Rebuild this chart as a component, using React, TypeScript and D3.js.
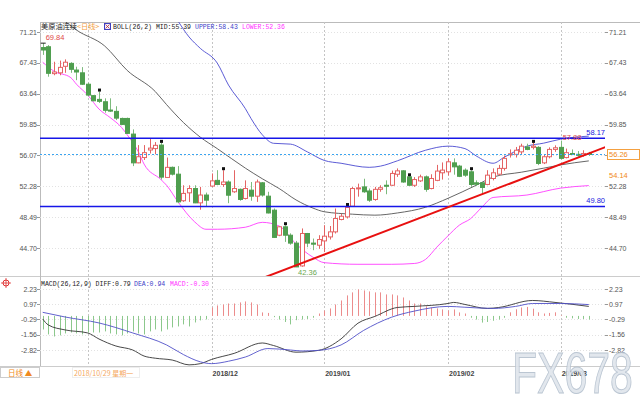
import React, { useEffect, useRef } from "react";
import * as d3 from "d3";

// daily candles, index 0 = 2018/10/22
const opens = [69.3, 69.4, 66.1, 66.2, 67.0, 67.36, 66.54, 66.2, 64.8, 63.4, 62.94, 62.65, 61.63, 61.47, 60.6, 60.6, 58.68, 55.15, 55.8, 56.73, 56.9, 57.33, 53.36, 54.6, 53.76, 50.5, 51.47, 52.0, 50.24, 51.2, 52.3, 53.0, 52.5, 52.8, 51.6, 51.9, 50.78, 51.8, 51.06, 52.7, 51.06, 49.34, 46.27, 47.3, 46.27, 45.3, 42.5, 46.48, 45.3, 45.04, 45.57, 46.06, 46.68, 48.2, 48.52, 49.83, 51.96, 52.2, 51.7, 50.66, 51.9, 52.4, 52.4, 53.75, 54.17, 53.43, 52.4, 52.94, 53.43, 52.0, 53.0, 53.93, 54.05, 55.15, 54.75, 54.25, 54.05, 52.7, 52.7, 52.5, 53.23, 53.76, 54.47, 56.2, 56.2, 56.5, 57.1, 57.05, 57.05, 55.15, 55.9, 56.8, 57.05, 55.8, 56.3, 56.2, 56.1, 56.3];
const highs = [69.84, 69.6, 67.56, 67.7, 67.85, 67.5, 66.95, 66.9, 65.0, 63.45, 63.9, 63.07, 63.07, 62.1, 60.7, 60.7, 59.26, 57.33, 57.33, 58.15, 57.7, 57.6, 55.8, 54.7, 54.75, 52.4, 52.4, 52.4, 52.2, 51.5, 53.85, 54.25, 54.25, 53.0, 54.25, 52.0, 53.0, 52.8, 53.1, 52.8, 51.6, 49.55, 47.4, 47.5, 46.5, 45.57, 47.1, 46.55, 45.86, 46.27, 47.5, 47.4, 49.55, 48.9, 49.85, 52.2, 52.6, 53.2, 52.0, 52.2, 52.4, 53.0, 54.2, 54.47, 54.25, 53.5, 53.4, 53.7, 53.6, 53.75, 54.9, 55.2, 55.7, 55.7, 54.9, 54.47, 54.25, 53.0, 52.8, 54.25, 54.47, 54.9, 56.06, 56.8, 57.1, 57.5, 57.5, 57.6, 57.2, 56.2, 57.05, 57.3, 57.88, 56.9, 56.8, 56.6, 56.7, 56.5];
const lows = [68.4, 65.72, 65.9, 65.9, 66.2, 66.2, 65.3, 64.7, 63.3, 62.7, 62.5, 61.3, 61.4, 60.4, 59.8, 58.7, 54.75, 55.1, 55.5, 56.3, 56.2, 53.1, 53.3, 53.6, 50.2, 50.36, 50.36, 50.2, 49.4, 49.75, 52.2, 52.4, 52.2, 50.2, 51.47, 50.5, 50.66, 50.5, 50.36, 51.0, 48.94, 45.95, 46.15, 45.45, 45.1, 42.36, 42.4, 44.8, 44.43, 44.6, 44.2, 45.74, 46.48, 48.1, 48.32, 49.75, 51.0, 51.47, 50.36, 50.5, 51.6, 51.3, 52.3, 53.43, 52.7, 52.3, 52.2, 52.8, 51.6, 51.9, 52.9, 53.1, 53.6, 53.7, 53.4, 53.43, 52.2, 52.3, 51.3, 52.4, 53.0, 53.6, 54.2, 55.8, 55.8, 56.2, 56.7, 56.8, 54.87, 55.0, 55.7, 56.5, 55.57, 55.7, 56.1, 55.9, 55.9, 56.0];
const closes = [69.0, 66.14, 66.3, 66.87, 67.5, 66.63, 66.3, 64.8, 63.47, 62.77, 62.7, 61.6, 61.5, 60.64, 59.87, 58.77, 55.15, 55.9, 56.4, 56.96, 57.3, 53.4, 54.6, 53.76, 50.36, 51.4, 52.0, 50.24, 51.2, 50.57, 52.94, 52.5, 52.8, 51.18, 52.0, 50.66, 52.0, 51.06, 52.8, 51.2, 49.0, 46.0, 47.3, 46.27, 45.3, 42.38, 46.48, 45.3, 45.17, 45.74, 46.15, 46.68, 48.32, 48.6, 49.67, 52.0, 52.08, 51.6, 50.57, 51.9, 52.1, 52.3, 53.85, 54.17, 52.8, 52.4, 53.1, 53.43, 51.9, 53.23, 54.14, 54.26, 55.28, 54.66, 53.5, 53.64, 52.5, 52.53, 52.13, 53.64, 53.93, 54.47, 55.7, 56.26, 56.7, 57.2, 56.8, 57.2, 55.08, 55.9, 56.8, 57.0, 55.7, 56.4, 56.2, 56.1, 56.3, 56.26];
const markerIdx = [10, 21, 32, 43, 54, 65, 76, 87];

const upperIdx = [24, 26, 28, 31, 33, 36, 37, 39, 41, 44, 47, 50, 53, 58, 60, 63, 68, 72, 75, 77, 80, 82, 86, 89, 92, 97];
const upperVal = [72.6, 70.6, 69.2, 67.4, 64.7, 61.8, 60.6, 58.6, 57.55, 57.45, 56.5, 55.45, 55.1, 54.6, 54.75, 55.4, 56.7, 57.2, 56.9, 56.0, 55.1, 55.85, 57.2, 57.57, 58.06, 58.43];
const midIdx = [4, 6, 11, 15, 20, 22, 25, 28, 31, 36, 39, 42, 45, 48, 50, 55, 59, 63, 68, 72, 77, 80, 85, 89, 92, 97];
const midVal = [72.5, 71.45, 69.5, 66.5, 63.9, 62.3, 60.1, 58.3, 56.9, 54.5, 53.2, 52.0, 50.6, 49.6, 49.15, 48.85, 48.73, 49.0, 49.7, 50.8, 52.4, 53.4, 54.0, 54.5, 54.9, 55.39];
const lowerIdx = [0, 2, 5, 6, 8, 10, 12, 14, 15, 17, 18, 21, 22, 24, 27, 29, 31, 36, 39, 42, 45, 48, 50, 56, 62, 66, 68, 70, 72, 74, 76, 78, 80, 86, 92, 97];
const lowerVal = [67.5, 66.4, 65.6, 64.8, 63.47, 61.75, 60.7, 59.5, 58.6, 56.5, 55.0, 53.1, 52.4, 50.4, 47.9, 47.0, 47.0, 47.25, 47.85, 47.4, 45.2, 43.57, 42.9, 42.7, 42.7, 42.8, 43.3, 44.8, 46.2, 47.5, 48.3, 49.7, 50.9, 51.2, 52.05, 52.36];

// MACD(26,12,9)
const diffIdx = [0, 1, 4, 8, 10, 13, 16, 18, 20, 23, 26, 28, 30, 34, 39, 41, 45, 49, 53, 56, 59, 63, 66, 72, 73, 75, 79, 81, 87, 91, 97];
const diffVal = [-0.25, -0.75, -1.16, -1.41, -1.91, -2.49, -2.82, -3.32, -3.5, -3.65, -4.05, -3.95, -3.6, -3.1, -2.24, -2.45, -3.0, -2.85, -1.9, -0.6, -0.04, 0.7, 0.79, 1.03, 1.12, 0.95, 0.62, 0.7, 1.28, 1.12, 0.79];
const deaIdx = [0, 4, 10, 16, 22, 25, 28, 30, 33, 36, 40, 44, 46, 49, 53, 57, 62, 66, 72, 75, 80, 84, 87, 92, 97];
const deaVal = [0.3, -0.09, -0.58, -1.41, -2.4, -3.2, -3.8, -3.95, -3.75, -3.4, -2.7, -2.82, -2.9, -2.85, -2.4, -1.2, -0.1, 0.4, 0.79, 0.72, 0.62, 0.79, 1.03, 1.03, 0.94];
const macdHist = [-1.12, -1.53, -1.7, -1.61, -1.45, -1.37, -1.45, -1.53, -1.37, -1.37, -1.37, -1.28, -1.45, -1.53, -1.61, -1.45, -1.28, -1.45, -1.53, -1.28, -1.12, -1.28, -1.12, -0.95, -0.87, -0.7, -0.87, -0.54, -0.37, -0.29, 0.7, 0.87, 0.95, 1.03, 1.03, 1.12, 1.2, 1.12, 0.95, 0.29, 0.25, -0.1, -0.3, -0.5, -0.7, -0.35, -0.3, -0.25, -0.15, 0.2, 0.45, 0.62, 0.95, 1.28, 1.7, 1.95, 2.2, 2.11, 2.03, 1.95, 1.95, 1.78, 1.78, 1.7, 1.53, 1.28, 1.03, 1.03, 0.79, 0.7, 0.62, 0.54, 0.45, 0.54, 0.29, 0.2, -0.15, -0.3, -0.55, -0.5, -0.4, -0.3, -0.15, 0.3, 0.55, 0.7, 0.75, 0.6, 0.3, 0.2, 0.25, 0.3, 0.05, -0.15, -0.2, -0.25, -0.25, -0.3];

const priceTicks = [71.21, 67.43, 63.64, 59.85, 56.07, 52.28, 48.49, 44.70];
const macdTicks = [2.23, 0.97, -0.29, -1.56, -2.82];
const monthIdx = [8, 30, 50, 72, 92];
// first month label sits under the date box, so it is left blank
const monthLabels = ["", "2018/12", "2019/01", "2019/02", "2019/03"];

const resistance = 58.17;
const support = 49.8;
const lastPrice = 56.26;
const trendIdx = [39, 100];
const trendVal = [40.99, 57.1];

const RED = "#e46464";
const GREEN = "#4f9e4f";

function App() {
  const svgRef = useRef<SVGSVGElement>(null);

  useEffect(() => {
    const svg = d3.select(svgRef.current);
    svg.selectAll("*").remove();

    const left = 40, right = 605;
    const mainTop = 22, mainBottom = 276, macdBottom = 366;
    const n = closes.length;

    const x = d3.scaleLinear().domain([0, n - 1]).range([42.7, 588.8]);
    const y = d3.scaleLinear().domain([44.7, 71.21]).range([248, 32]);
    const ym = d3.scaleLinear().domain([-2.82, 2.23]).range([350, 289]);

    const sans = "'Liberation Sans', Arial, sans-serif";
    const mono = "'Liberation Mono', 'Noto Sans CJK SC', monospace";

    const defs = svg.append("defs");
    defs.append("clipPath").attr("id", "mainClip")
      .append("rect").attr("x", left).attr("y", mainTop).attr("width", right - left).attr("height", mainBottom - mainTop);

    // frame
    svg.append("rect").attr("width", 640).attr("height", 400).attr("fill", "#fff");
    svg.append("line").attr("x1", left).attr("x2", 640).attr("y1", mainTop + 0.5).attr("y2", mainTop + 0.5).attr("stroke", "#bbb");
    svg.append("line").attr("x1", 0).attr("x2", 640).attr("y1", mainBottom + 0.5).attr("y2", mainBottom + 0.5).attr("stroke", "#ccc");
    svg.append("line").attr("x1", 0).attr("x2", 640).attr("y1", macdBottom + 0.5).attr("y2", macdBottom + 0.5).attr("stroke", "#ccc");
    svg.append("line").attr("x1", left + 0.5).attr("x2", left + 0.5).attr("y1", mainTop).attr("y2", macdBottom).attr("stroke", "#bbb");

    // grid
    const grid = svg.append("g").attr("stroke", "#e2e2e2").attr("stroke-dasharray", "1,2");
    grid.selectAll(".hg").data(priceTicks).enter().append("line")
      .attr("x1", left).attr("x2", right).attr("y1", d => Math.round(y(d)) + 0.5).attr("y2", d => Math.round(y(d)) + 0.5);
    grid.selectAll(".mg").data(macdTicks).enter().append("line")
      .attr("x1", left).attr("x2", right).attr("y1", d => Math.round(ym(d)) + 0.5).attr("y2", d => Math.round(ym(d)) + 0.5);
    svg.append("g").attr("stroke", "#c4c4c4").attr("stroke-dasharray", "2,2")
      .selectAll("line").data(monthIdx).enter().append("line")
      .attr("x1", d => Math.round(x(d)) + 0.5).attr("x2", d => Math.round(x(d)) + 0.5)
      .attr("y1", mainTop).attr("y2", macdBottom);

    // axes labels
    const axisText = (g: any, ticks: number[], sc: any, xx: number, anchor: string) => {
      g.selectAll("text").data(ticks).enter().append("text")
        .attr("x", xx).attr("y", (d: number) => sc(d) + 2.5)
        .attr("text-anchor", anchor).attr("font-family", sans).attr("font-size", 7).attr("fill", "#555")
        .text((d: number) => d.toFixed(2));
      g.selectAll("line").data(ticks).enter().append("line")
        .attr("x1", anchor === "end" ? left - 3 : right).attr("x2", anchor === "end" ? left : right + 3)
        .attr("y1", (d: number) => Math.round(sc(d)) + 0.5).attr("y2", (d: number) => Math.round(sc(d)) + 0.5)
        .attr("stroke", "#999");
    };
    axisText(svg.append("g"), priceTicks, y, 37, "end");
    axisText(svg.append("g"), priceTicks, y, 609, "start");
    axisText(svg.append("g"), macdTicks, ym, 37, "end");
    axisText(svg.append("g"), macdTicks, ym, 609, "start");

    const main = svg.append("g").attr("clip-path", "url(#mainClip)");

    // bollinger
    const band = (idx: number[], val: number[], color: string) => {
      const pts = idx.map((d, i) => [d, val[i]] as [number, number]);
      main.append("path").datum(pts)
        .attr("d", d3.line<[number, number]>().x(d => x(d[0])).y(d => y(d[1])).curve(d3.curveMonotoneX))
        .attr("fill", "none").attr("stroke", color).attr("stroke-width", 0.9);
    };
    band(midIdx, midVal, "#555");
    band(upperIdx, upperVal, "#4a4ad0");
    band(lowerIdx, lowerVal, "#ff3cff");

    // candles
    const idx = d3.range(n);
    const c = main.append("g");
    c.selectAll(".wick").data(idx).enter().append("line")
      .attr("x1", i => Math.round(x(i)) + 0.5).attr("x2", i => Math.round(x(i)) + 0.5)
      .attr("y1", i => y(highs[i])).attr("y2", i => y(lows[i]))
      .attr("stroke", i => (closes[i] >= opens[i] ? RED : "#7dbb7d"));
    c.selectAll(".body").data(idx).enter().append("rect")
      .attr("x", i => Math.round(x(i)) - 1.5)
      .attr("y", i => y(Math.max(opens[i], closes[i])))
      .attr("width", 4)
      .attr("height", i => Math.max(1, Math.abs(y(opens[i]) - y(closes[i]))))
      .attr("fill", i => (closes[i] >= opens[i] ? "#fff" : GREEN))
      .attr("stroke", i => (closes[i] >= opens[i] ? RED : GREEN))
      .attr("stroke-width", 1);
    c.selectAll(".mk").data(markerIdx).enter().append("rect")
      .attr("x", i => Math.round(x(i)) - 1).attr("y", i => y(highs[i]) - 3)
      .attr("width", 3).attr("height", 3).attr("fill", "#111");
    main.append("line").attr("x1", x(0) - 2).attr("x2", x(0) + 3).attr("y1", y(highs[0])).attr("y2", y(highs[0])).attr("stroke", "#222");

    // levels
    [resistance, support].forEach(v => {
      main.append("line").attr("x1", left).attr("x2", right).attr("y1", y(v)).attr("y2", y(v))
        .attr("stroke", "#1616e8").attr("stroke-width", 1.6);
    });
    main.append("line").attr("x1", left).attr("x2", right).attr("y1", Math.round(y(lastPrice)) + 0.5).attr("y2", Math.round(y(lastPrice)) + 0.5)
      .attr("stroke", "#3aa4f0").attr("stroke-dasharray", "2,2");
    main.append("line")
      .attr("x1", x(trendIdx[0])).attr("y1", y(trendVal[0]))
      .attr("x2", x(trendIdx[1])).attr("y2", y(trendVal[1]))
      .attr("stroke", "#e81010").attr("stroke-width", 2);

    // price annotations
    const hiI = d3.maxIndex(highs), loI = d3.minIndex(lows);
    svg.append("text").attr("x", x(hiI) + 3).attr("y", y(highs[hiI]) - 3)
      .attr("font-family", sans).attr("font-size", 7.5).attr("fill", "#e04848").text(highs[hiI].toFixed(2));
    svg.append("text").attr("x", x(loI) + 2).attr("y", y(lows[loI]) + 8)
      .attr("font-family", sans).attr("font-size", 7.5).attr("fill", "#6aa84f").text(lows[loI].toFixed(2));
    const recentHi = d3.maxIndex(highs.slice(80)) + 80;
    svg.append("text").attr("x", x(recentHi) + 2).attr("y", y(highs[recentHi]) - 1)
      .attr("font-family", sans).attr("font-size", 7.5).attr("fill", "#e04848").text(highs[recentHi].toFixed(2));
    [resistance, support].forEach(v => {
      svg.append("text").attr("x", right).attr("y", y(v) - 3).attr("text-anchor", "end")
        .attr("font-family", sans).attr("font-size", 7.5).attr("fill", "#2020e0").text(v.toFixed(2));
    });
    svg.append("rect").attr("x", 607.5).attr("y", Math.round(y(lastPrice)) - 4.5).attr("width", 32).attr("height", 10)
      .attr("fill", "#fff").attr("stroke", "#f4a040");
    svg.append("text").attr("x", 609).attr("y", y(lastPrice) + 3.5)
      .attr("font-family", sans).attr("font-size", 7.5).attr("fill", "#f08a20").text(lastPrice.toFixed(2));
    svg.append("text").attr("x", 609).attr("y", y(closes[70]) + 6.5)
      .attr("font-family", sans).attr("font-size", 7.5).attr("fill", "#f08a20").text(closes[70].toFixed(2));

    // MACD
    const zero = ym(0);
    svg.append("g").selectAll("line").data(idx).enter().append("line")
      .attr("x1", i => Math.round(x(i)) + 0.5).attr("x2", i => Math.round(x(i)) + 0.5)
      .attr("y1", zero).attr("y2", i => ym(macdHist[i]))
      .attr("stroke", i => (macdHist[i] >= 0 ? "#ec8c8c" : "#8cc88c"));
    const macdLine = (ii: number[], vv: number[], color: string) => {
      const pts = ii.map((d, k) => [d, vv[k]] as [number, number]);
      svg.append("path").datum(pts)
        .attr("d", d3.line<[number, number]>().x(d => x(d[0])).y(d => ym(d[1])).curve(d3.curveMonotoneX))
        .attr("fill", "none").attr("stroke", color).attr("stroke-width", 0.9);
    };
    macdLine(diffIdx, diffVal, "#333");
    macdLine(deaIdx, deaVal, "#5050c8");

    // legends
    const leg = (tx: number, ty: number, s: string, color: string, font = mono, size = 6.5) =>
      svg.append("text").attr("x", tx).attr("y", ty).attr("font-family", font).attr("font-size", size).attr("fill", color).text(s);
    leg(41, 29, "美原油连续", "#222", "'Noto Sans CJK SC', sans-serif", 7.2);
    leg(77, 29, "<日线>", "#f4a040", "'Noto Sans CJK SC', sans-serif", 7.2);
    svg.append("rect").attr("x", 104.5).attr("y", 23.5).attr("width", 6).attr("height", 6).attr("fill", "#eef").attr("stroke", "#4040c0");
    svg.append("path").attr("d", "M105.5,24.5L109.5,28.5M109.5,24.5L105.5,28.5").attr("stroke", "#c03030").attr("stroke-width", 0.8);
    leg(113, 29, "BOLL(26,2) MID:" + midVal[midVal.length - 1].toFixed(2), "#222");
    leg(195, 29, "UPPER:" + upperVal[upperVal.length - 1].toFixed(2), "#4040c8");
    leg(242, 29, "LOWER:" + lowerVal[lowerVal.length - 1].toFixed(2), "#ff33ff");

    leg(41, 286, "MACD(26,12,9) DIFF:" + diffVal[diffVal.length - 1].toFixed(2), "#222");
    leg(134, 286, "DEA:" + deaVal[deaVal.length - 1].toFixed(2), "#4040c8");
    leg(170, 286, "MACD:" + macdHist[macdHist.length - 1].toFixed(2), "#ff33ff");
    svg.append("circle").attr("cx", 6).attr("cy", 283).attr("r", 3).attr("fill", "none").attr("stroke", "#e03030");
    svg.append("path").attr("d", "M1,283H11M6,278V288").attr("stroke", "#e03030").attr("stroke-width", 0.8);

    // date axis
    svg.append("g").selectAll("text").data(monthIdx).enter().append("text")
      .attr("x", d => x(d) + 1).attr("y", 376)
      .attr("font-family", sans).attr("font-size", 7).attr("font-weight", "bold").attr("fill", "#444")
      .text((d, i) => monthLabels[i]);
    svg.append("rect").attr("x", 0.5).attr("y", 367.5).attr("width", 39).attr("height", 10).attr("fill", "#fff").attr("stroke", "#ccc");
    leg(8, 376, "日线 ▲", "#f08a20", "'Noto Sans CJK SC', sans-serif", 7.5);
    svg.append("rect").attr("x", 72.5).attr("y", 367.5).attr("width", 67).attr("height", 10).attr("fill", "#fff").attr("stroke", "#eee");
    leg(74, 376, "2018/10/29 星期一", "#f4a860", "'Noto Sans CJK SC', sans-serif", 7);

    // watermark
    svg.append("text").attr("transform", "translate(512,393) scale(0.72,1)")
      .attr("font-family", sans).attr("font-size", 57)
      .attr("fill", "#dfe5ec").attr("stroke", "#b4c0ce").attr("stroke-width", 1).attr("opacity", 0.9)
      .text("FX678");
  }, []);

  return (
    <svg ref={svgRef} width={640} height={400} style={{ position: "absolute", left: 0, top: 0 }} />
  );
}

export default App;
